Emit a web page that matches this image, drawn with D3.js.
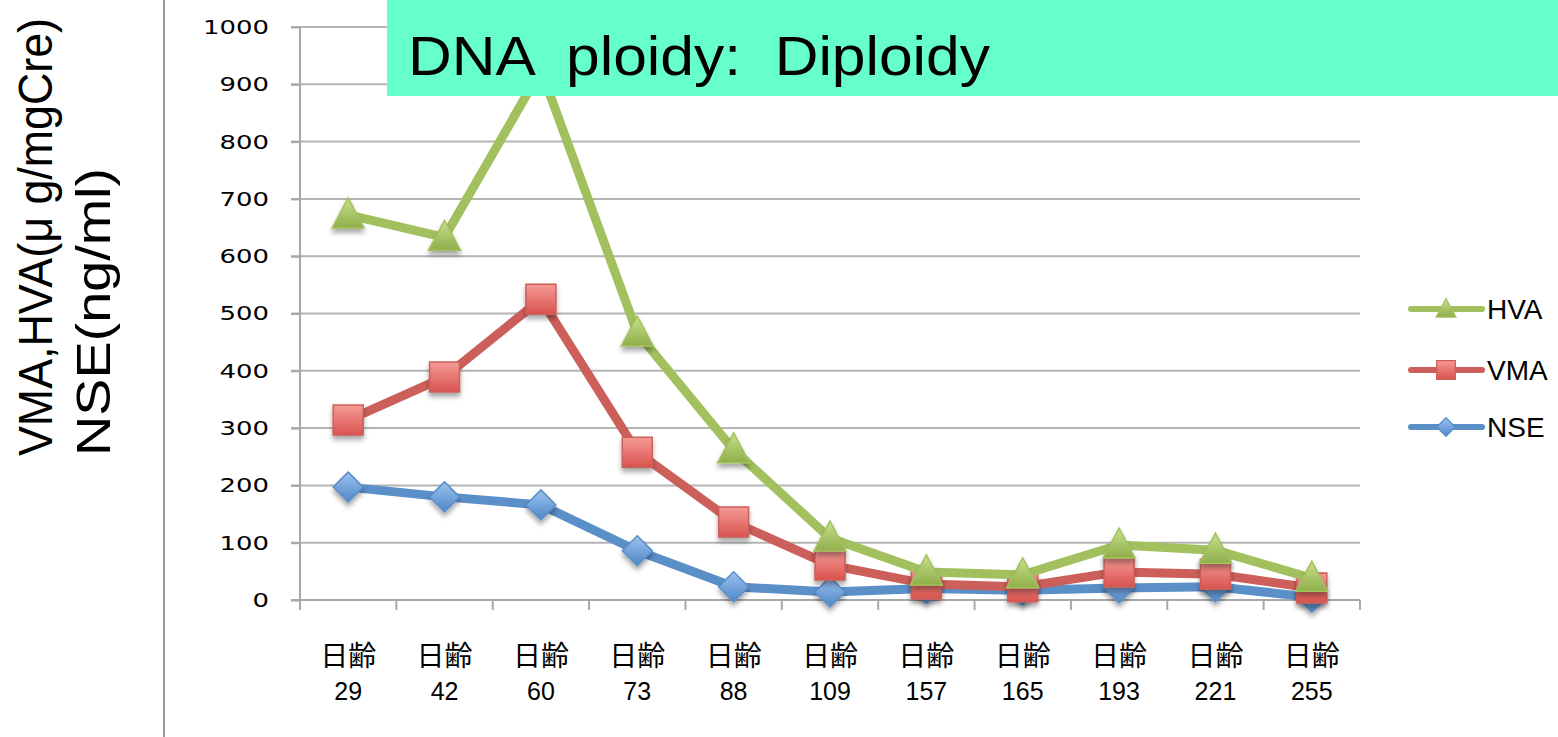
<!DOCTYPE html>
<html>
<head>
<meta charset="utf-8">
<script src="https://cdn.jsdelivr.net/npm/d3@7"></script>
<style>
  body { margin: 0; background: #fff; }
  svg { display: block; }
</style>
</head>
<body>
<div id="chart"></div>
<script>
// Tumor markers by age in days
var days = ["29", "42", "60", "73", "88", "109", "157", "165", "193", "221", "255"];
var hva = [672, 633, 925, 466, 262, 108, 49, 44, 96, 87, 38];
var vma = [314, 389, 525, 258, 136, 61, 28, 23, 49, 45, 21];
var nse = [197, 180, 166, 86, 23, 14, 20, 17, 21, 23, 5];
var yTicks = [0, 100, 200, 300, 400, 500, 600, 700, 800, 900, 1000];

var series = [
  {name: "HVA", values: hva, color: "#a2c15e", light: "#c8e08c", dark: "#8fae4a", shape: "triangle"},
  {name: "VMA", values: vma, color: "#cd5f5a", light: "#f59a96", dark: "#d9534f", shape: "square"},
  {name: "NSE", values: nse, color: "#5b8fc8", light: "#9cc3f0", dark: "#4f86c6", shape: "diamond"}
];

var width = 1558, height = 737;
var margin = {top: 27, left: 300, right: 198, bottom: 137};

var svg = d3.select("#chart").append("svg")
  .attr("width", width)
  .attr("height", height);

var defs = svg.append("defs");
var shadow = defs.append("filter").attr("id", "shadow")
  .attr("x", "-50%").attr("y", "-50%").attr("width", "200%").attr("height", "200%");
shadow.append("feDropShadow")
  .attr("dx", 0).attr("dy", 4).attr("stdDeviation", 2.5)
  .attr("flood-color", "#000").attr("flood-opacity", 0.35);

series.forEach(function(s) {
  var g = defs.append("linearGradient").attr("id", "grad-" + s.name)
    .attr("x1", 0).attr("y1", 0).attr("x2", 0).attr("y2", 1);
  g.append("stop").attr("offset", "0%").attr("stop-color", s.light);
  g.append("stop").attr("offset", "100%").attr("stop-color", s.dark);
});

var x = d3.scaleBand()
  .domain(days)
  .range([margin.left, width - margin.right]);

var y = d3.scaleLinear()
  .domain([0, 1000])
  .range([height - margin.bottom, margin.top]);

// left frame line
svg.append("line")
  .attr("x1", 164).attr("x2", 164)
  .attr("y1", 0).attr("y2", height)
  .attr("stroke", "#9a9a9a").attr("stroke-width", 2);

// gridlines
svg.append("g")
  .selectAll("line")
  .data(yTicks.slice(1))
  .enter().append("line")
  .attr("x1", margin.left - 9).attr("x2", width - margin.right)
  .attr("y1", function(d) { return y(d); })
  .attr("y2", function(d) { return y(d); })
  .attr("stroke", "#b4b4b4").attr("stroke-width", 2);

// y axis
var yAxis = svg.append("g")
  .attr("transform", "translate(" + margin.left + ",0)")
  .call(d3.axisLeft(y).tickValues(yTicks).tickFormat(d3.format("d")).tickSize(9).tickPadding(22));
yAxis.select(".domain").remove();
yAxis.append("line")
  .attr("x1", 0).attr("x2", 0)
  .attr("y1", y(1000)).attr("y2", y(0) + 10)
  .attr("stroke", "#a8a8a8").attr("stroke-width", 2);
yAxis.selectAll(".tick line").attr("stroke", "#a8a8a8").attr("stroke-width", 2);
yAxis.selectAll(".tick text")
  .attr("fill", "#000")
  .style("font-family", "DejaVu Sans")
  .style("font-size", "20px")
  .attr("textLength", function(d) { return String(d).length * 16.5; })
  .attr("lengthAdjust", "spacingAndGlyphs");

// x axis
var xAxis = svg.append("g")
  .attr("transform", "translate(0," + y(0) + ")");
xAxis.append("line")
  .attr("x1", margin.left - 9).attr("x2", width - margin.right)
  .attr("stroke", "#a8a8a8").attr("stroke-width", 2);
xAxis.selectAll(".xtick")
  .data(days.concat(["end"]))
  .enter().append("line")
  .attr("x1", function(d, i) { return i < days.length ? x(d) : width - margin.right; })
  .attr("x2", function(d, i) { return i < days.length ? x(d) : width - margin.right; })
  .attr("y1", 0).attr("y2", 10)
  .attr("stroke", "#a8a8a8").attr("stroke-width", 2);

xAxis.selectAll(".xlabel")
  .data(days)
  .enter().append("text")
  .attr("class", "xlabel")
  .attr("text-anchor", "middle")
  .attr("x", function(d) { return x(d) + x.bandwidth() / 2; })
  .attr("y", 66)
  .attr("fill", "#000")
  .style("font-family", "'Noto Sans CJK JP'")
  .style("font-size", "28px")
  .text("日齢");
xAxis.selectAll(".xnum")
  .data(days)
  .enter().append("text")
  .attr("class", "xnum")
  .attr("text-anchor", "middle")
  .attr("x", function(d) { return x(d) + x.bandwidth() / 2; })
  .attr("y", 100)
  .attr("fill", "#000")
  .style("font-family", "'Liberation Sans'")
  .style("font-size", "25px")
  .text(function(d) { return d; });

// lines and markers
var line = d3.line()
  .x(function(d, i) { return x(days[i]) + x.bandwidth() / 2; })
  .y(function(d) { return y(d); });

function markerPath(shape) {
  if (shape === "triangle") return "M0,-17L16,13L-16,13Z";
  if (shape === "square") return "M-15,-15L15,-15L15,15L-15,15Z";
  return "M0,-15L15,0L0,15L-15,0Z";
}

var plot = svg.append("g");
series.slice().reverse().forEach(function(s) {
  var g = plot.append("g");
  g.append("path")
    .datum(s.values)
    .attr("d", line)
    .attr("fill", "none")
    .attr("stroke", s.color)
    .attr("stroke-width", 9)
    .attr("stroke-linejoin", "round");
  g.selectAll("path.mark")
    .data(s.values)
    .enter().append("path")
    .attr("class", "mark")
    .attr("transform", function(d, i) {
      return "translate(" + (x(days[i]) + x.bandwidth() / 2) + "," + y(d) + ")";
    })
    .attr("d", markerPath(s.shape))
    .attr("fill", "url(#grad-" + s.name + ")")
    .attr("stroke", s.color)
    .attr("stroke-width", 1.5)
    .attr("filter", "url(#shadow)");
});

// legend
var legend = svg.append("g");
var legendY = [309, 370, 427];
series.forEach(function(s, i) {
  var g = legend.append("g").attr("transform", "translate(1411," + legendY[i] + ")");
  g.append("line")
    .attr("x1", 0).attr("x2", 71)
    .attr("stroke", s.color).attr("stroke-width", 6)
    .attr("stroke-linecap", "round");
  g.append("path")
    .attr("transform", "translate(35,0) scale(0.62)")
    .attr("d", markerPath(s.shape))
    .attr("fill", "url(#grad-" + s.name + ")")
    .attr("stroke", s.color)
    .attr("stroke-width", 2);
  g.append("text")
    .attr("x", 76).attr("y", 10)
    .attr("fill", "#000")
    .style("font-family", "'Liberation Sans'")
    .style("font-size", "28px")
    .text(s.name);
});

// y axis title
var title = svg.append("text")
  .attr("transform", "translate(0,456) rotate(-90)")
  .attr("fill", "#000")
  .style("font-family", "'Liberation Sans'")
  .style("font-size", "48px");
title.append("tspan")
  .attr("x", 0).attr("y", 52)
  .attr("textLength", 438).attr("lengthAdjust", "spacingAndGlyphs")
  .text("VMA,HVA(μ g/mgCre)");
title.append("tspan")
  .attr("x", 0).attr("y", 110)
  .attr("textLength", 288).attr("lengthAdjust", "spacingAndGlyphs")
  .text("NSE(ng/ml)");

// banner overlay
svg.append("rect")
  .attr("x", 387).attr("y", 0)
  .attr("width", width - 387).attr("height", 96)
  .attr("fill", "#66ffcc");
svg.append("text")
  .attr("x", 408).attr("y", 75)
  .attr("fill", "#000")
  .style("font-family", "'Liberation Sans'")
  .style("font-size", "56px")
  .attr("textLength", 582).attr("lengthAdjust", "spacingAndGlyphs")
  .attr("xml:space", "preserve")
  .text("DNA  ploidy:  Diploidy");
</script>
</body>
</html>
